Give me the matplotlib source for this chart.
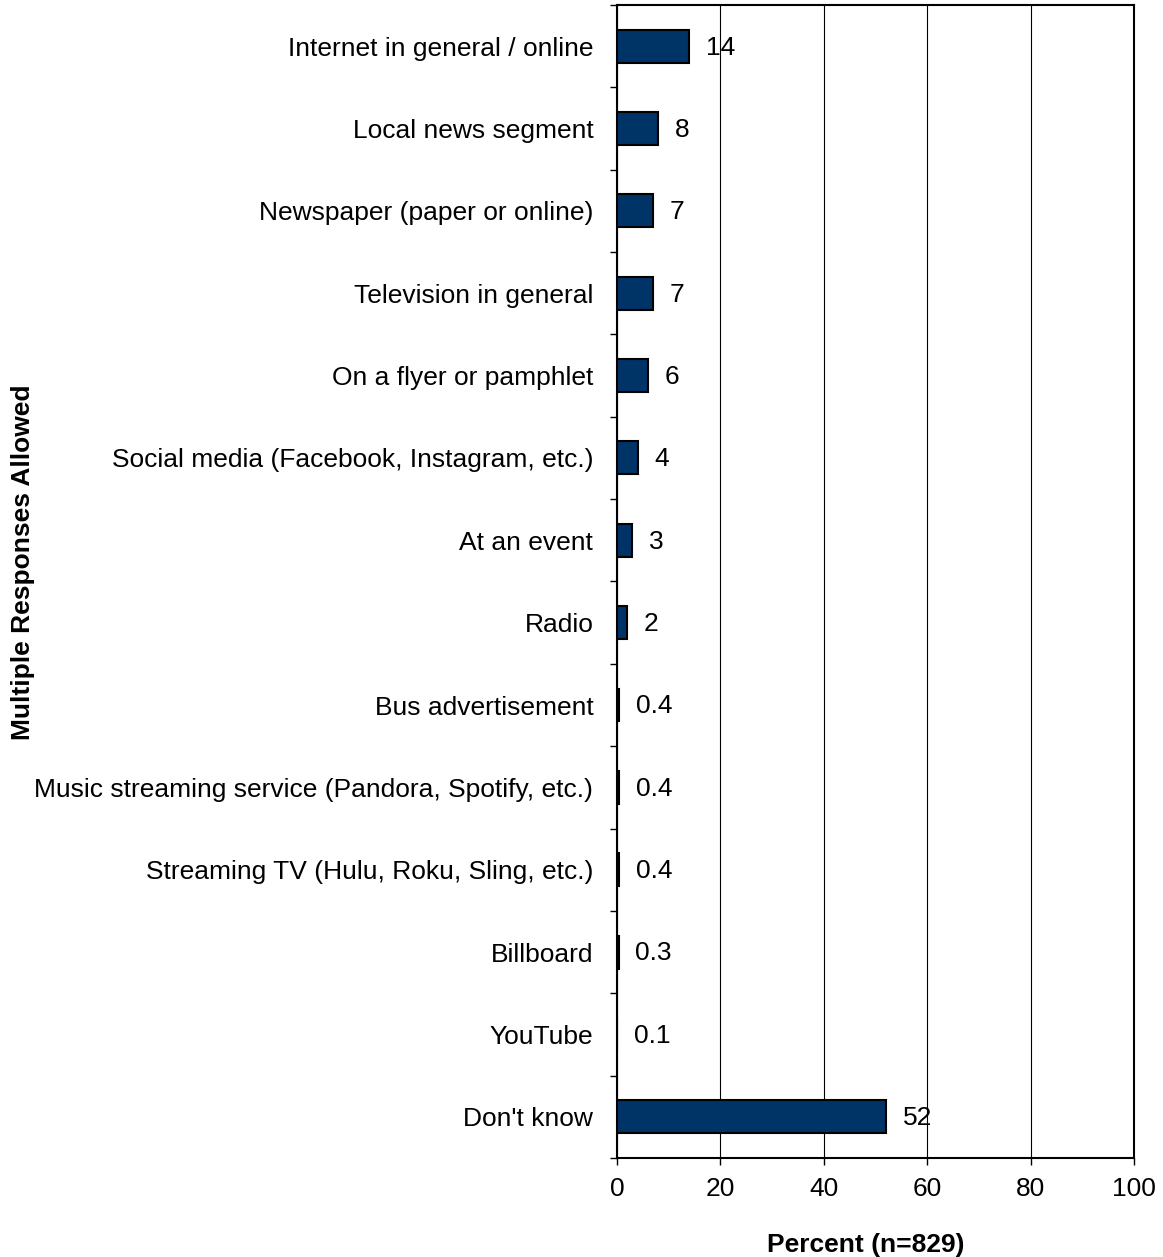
import numpy as np
import matplotlib.pyplot as plt

plt.rcParams['font.family'] = ['Liberation Sans', 'DejaVu Sans']

categories = [
    "Internet in general / online",
    "Local news segment",
    "Newspaper (paper or online)",
    "Television in general",
    "On a flyer or pamphlet",
    "Social media (Facebook, Instagram, etc.)",
    "At an event",
    "Radio",
    "Bus advertisement",
    "Music streaming service (Pandora, Spotify, etc.)",
    "Streaming TV (Hulu, Roku, Sling, etc.)",
    "Billboard",
    "YouTube",
    "Don't know",
]
values = [14, 8, 7, 7, 6, 4, 3, 2, 0.4, 0.4, 0.4, 0.3, 0.1, 52]
labels = ["14", "8", "7", "7", "6", "4", "3", "2", "0.4", "0.4", "0.4", "0.3", "0.1", "52"]
xticks = [0, 20, 40, 60, 80, 100]

fig = plt.figure(figsize=(11.63, 12.57), dpi=100)
ax = fig.add_axes([0.5305, 0.0788, 0.4445, 0.9172])

y = np.arange(len(categories))
ax.barh(y, values, height=0.4, color='#003366', edgecolor='black', linewidth=1.5, zorder=3)

for yi, v, lab in zip(y, values, labels):
    ax.annotate(lab, (v, yi), xytext=(12, -1), textcoords='offset points',
                va='center', ha='left', fontsize=19, zorder=4)

ax.set_xlim(0, 100)
ax.set_ylim(len(categories) - 0.5, -0.5)
ax.set_xticks(xticks)
ax.set_xticklabels([str(t) for t in xticks], fontsize=19)
ax.tick_params(axis='x', direction='out', length=5, width=1, pad=9)

# category labels as minor ticks, boundaries as major ticks
ax.set_yticks(np.arange(len(categories) + 1) - 0.5)
ax.set_yticklabels([])
ax.set_yticks(y, minor=True)
ax.set_yticklabels(categories, minor=True, fontsize=19)
ax.tick_params(axis='y', which='major', direction='out', length=5, width=1)
ax.tick_params(axis='y', which='minor', length=0, pad=17)

ax.grid(axis='x', color='black', linewidth=0.8, zorder=0)
for s in ax.spines.values():
    s.set_linewidth(1.5)
    s.set_color('black')

ax.set_xlabel('Percent (n=829)', fontsize=19, fontweight='bold')
ax.xaxis.set_label_coords(0.482, -0.065)
fig.text(0.02, 0.553, 'Multiple Responses Allowed', rotation=90, fontsize=19,
         fontweight='bold', ha='center', va='center')

fig.savefig('out.png', dpi=100)
